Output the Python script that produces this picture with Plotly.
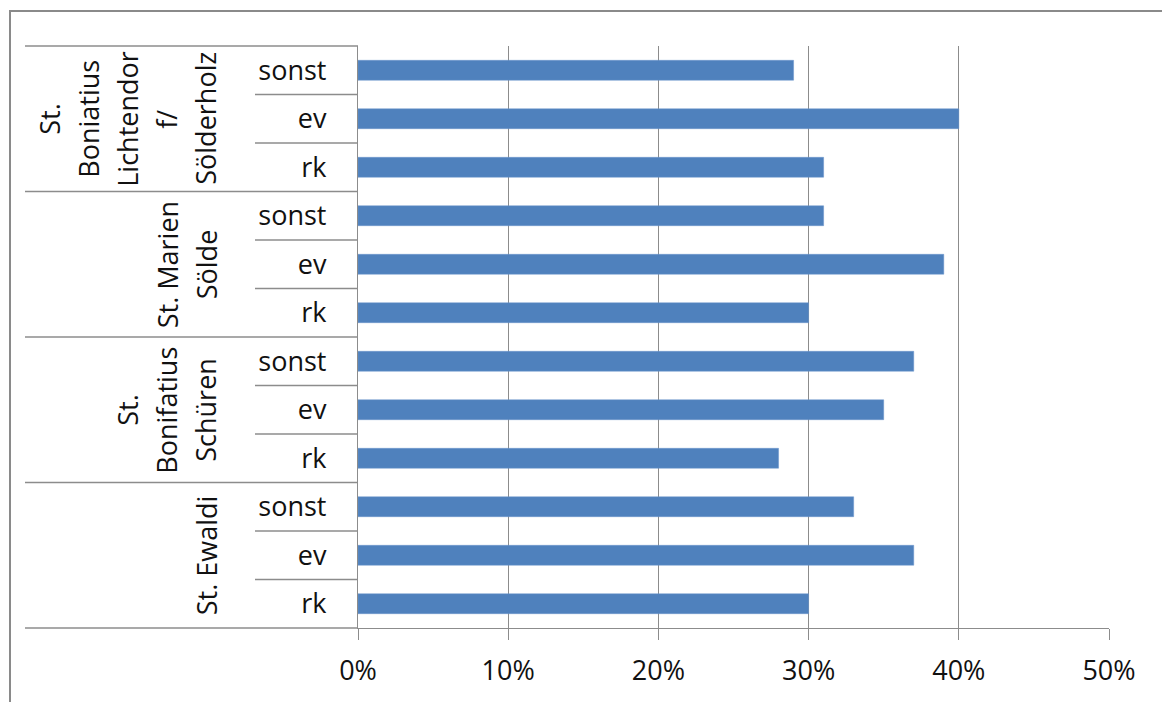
import plotly.graph_objects as go

groups = ["St. Ewaldi", "St. Bonifatius Schüren", "St. Marien Sölde", "St. Boniatius Lichtendorf/ Sölderholz"]
group_lines = [
    ["St. Ewaldi"],
    ["St.", "Bonifatius", "Schüren"],
    ["St. Marien", "Sölde"],
    ["St.", "Boniatius", "Lichtendor", "f/", "Sölderholz"],
]
subcats = ["rk", "ev", "sonst"]
values = {
    "St. Ewaldi": [0.30, 0.37, 0.33],
    "St. Bonifatius Schüren": [0.28, 0.35, 0.37],
    "St. Marien Sölde": [0.30, 0.39, 0.31],
    "St. Boniatius Lichtendorf/ Sölderholz": [0.31, 0.40, 0.29],
}
x_ticks = [0, 0.1, 0.2, 0.3, 0.4, 0.5]
x_ticktext = ["0%", "10%", "20%", "30%", "40%", "50%"]

W, H = 1162, 702
L, R, T, B = 358, 1109, 46, 628
pw = R - L
FONT = "Open Sans"
GRID = "#8c8c8c"

keys, labels, xs = [], [], []
for g in groups:
    for s, v in zip(subcats, values[g]):
        keys.append(g + "|" + s)
        labels.append(s)
        xs.append(v)

fig = go.Figure(go.Bar(
    x=xs, y=keys, orientation="h",
    marker=dict(color="#4F81BD", line=dict(color="#6a95cc", width=0.5)),
    width=0.41,
))

def px2paper(px):
    return (px - L) / pw

n = len(keys)
shapes = []
# outer chart border (partially cropped)
shapes.append(dict(type="rect", xref="paper", yref="paper",
                   x0=px2paper(10), x1=px2paper(W + 20),
                   y0=-(H + 20 - B) / (B - T), y1=1 + (T - 11) / (B - T),
                   line=dict(color="#8a8a8a", width=2)))
# group separators
for k in range(0, n + 1, 3):
    shapes.append(dict(type="line", xref="paper", yref="paper",
                       x0=px2paper(25), x1=0, y0=k / n, y1=k / n,
                       line=dict(color=GRID, width=1.3)))
# sub-category separators
for k in range(n):
    if k % 3 != 0:
        shapes.append(dict(type="line", xref="paper", yref="paper",
                           x0=px2paper(255), x1=0, y0=k / n, y1=k / n,
                           line=dict(color=GRID, width=1.3)))

annotations = []
for gi, g in enumerate(groups):
    lines = group_lines[gi]
    yc = (gi * 3 + 1.5) / n
    m = len(lines)
    for li, t in enumerate(lines):
        xc = 206 - (m - 1 - li) * 39
        annotations.append(dict(text=t, xref="paper", yref="paper",
                                x=px2paper(xc), y=yc, xanchor="center", yanchor="middle",
                                textangle=-90, showarrow=False,
                                font=dict(family=FONT, size=27, color="#111111")))

fig.update_layout(
    width=W, height=H,
    margin=dict(l=L, r=W - R, t=T, b=H - B, pad=0),
    paper_bgcolor="white", plot_bgcolor="white",
    showlegend=False,
    font=dict(family=FONT, size=27, color="#111111"),
    xaxis=dict(range=[0, 0.5], tickvals=x_ticks, ticktext=x_ticktext,
               showgrid=True, gridcolor=GRID, gridwidth=1.3,
               showline=True, linecolor=GRID, linewidth=1.3,
               ticks="outside", ticklen=11, tickcolor=GRID, tickwidth=1.3,
               ticklabelstandoff=7, zeroline=False),
    yaxis=dict(type="category", categoryorder="array", categoryarray=keys,
               tickvals=keys, ticktext=labels, range=[-0.5, n - 0.5],
               showgrid=False, showline=True, linecolor=GRID, linewidth=1.3,
               ticks="", ticklabelstandoff=25, zeroline=False),
    shapes=shapes, annotations=annotations,
    bargap=0.59,
)

fig.write_html("out.html")
